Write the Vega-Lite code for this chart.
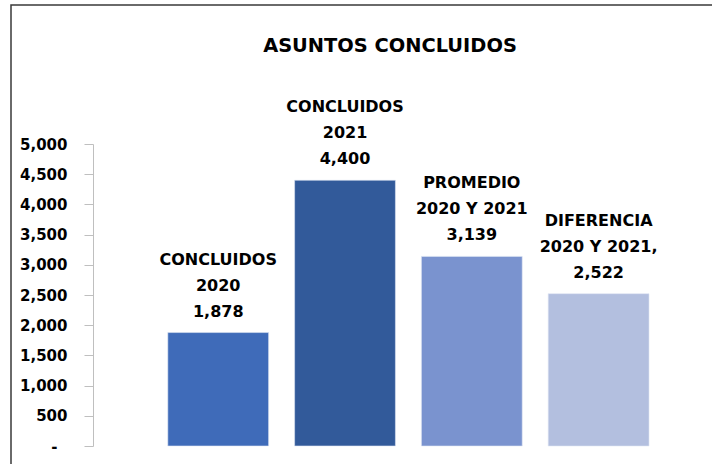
{
  "$schema": "https://vega.github.io/schema/vega-lite/v6.json",
  "width": 720,
  "height": 470,
  "autosize": {"type": "none"},
  "padding": {"left": 11, "top": 5, "right": 0, "bottom": 0},
  "background": "white",
  "config": {"view": {"stroke": "#3a3a3a", "strokeWidth": 1.5}, "font": "DejaVu Sans"},
  "title": {"text": "ASUNTOS CONCLUIDOS", "fontSize": 19.4, "font": "DejaVu Sans", "fontWeight": "bold", "color": "#000000", "anchor": "middle", "dx": 19, "dy": 66, "baseline": "alphabetic", "offset": 0},
  "data": {"values": [
    {"categoria": "CONCLUIDOS 2020", "valor": 1878, "etiqueta": "CONCLUIDOS\n2020\n1,878"},
    {"categoria": "CONCLUIDOS 2021", "valor": 4400, "etiqueta": "CONCLUIDOS\n2021\n4,400"},
    {"categoria": "PROMEDIO 2020 Y 2021", "valor": 3139, "etiqueta": "PROMEDIO\n2020 Y 2021\n3,139"},
    {"categoria": "DIFERENCIA 2020 Y 2021", "valor": 2522, "etiqueta": "DIFERENCIA\n2020 Y 2021,\n2,522"}
  ]},
  "encoding": {
    "x": {"field": "categoria", "type": "nominal", "sort": null, "scale": {"range": [82, 690], "paddingInner": 0.205, "paddingOuter": 0.5, "align": 0.59}, "axis": null},
    "y": {"field": "valor", "type": "quantitative", "scale": {"domain": [0, 5000], "range": [441, 139], "nice": false, "zero": true},
      "axis": {"values": [0, 500, 1000, 1500, 2000, 2500, 3000, 3500, 4000, 4500, 5000], "format": ",.0f", "labelExpr": "datum.value == 0 ? '-' : datum.label", "offset": -82, "domainColor": "#BFBFBF", "tickColor": "#BFBFBF", "tickSize": 9, "labelFont": "DejaVu Sans", "labelFontSize": 15, "labelFontWeight": "bold", "labelColor": "#000000", "labelPadding": {"condition": {"test": "datum.value == 0", "value": 27}, "value": 17}, "grid": false, "title": null}}
  },
  "layer": [
    {"mark": {"type": "bar", "stroke": "#dfe6f4", "strokeWidth": 0.6},
     "encoding": {"color": {"field": "categoria", "type": "nominal", "sort": null, "scale": {"domain": ["CONCLUIDOS 2020", "CONCLUIDOS 2021", "PROMEDIO 2020 Y 2021", "DIFERENCIA 2020 Y 2021"], "range": ["#3F6BB9", "#325A9A", "#7A93CF", "#B3BFDF"]}, "legend": null}}},
    {"mark": {"type": "text", "font": "DejaVu Sans", "fontSize": 16, "fontWeight": "bold", "color": "#000000", "lineBreak": "\n", "lineHeight": 26, "baseline": "alphabetic", "align": "center", "dy": -68},
     "encoding": {"text": {"field": "etiqueta"}}}
  ]
}
